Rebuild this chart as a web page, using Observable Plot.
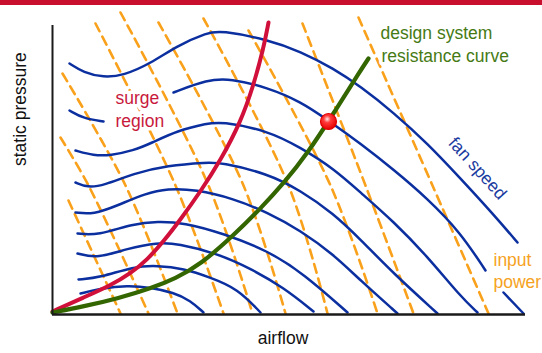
<!DOCTYPE html>
<html><head><meta charset="utf-8">
<script src="https://cdn.jsdelivr.net/npm/d3@7"></script>
<script src="https://cdn.jsdelivr.net/npm/@observablehq/plot@0.6"></script>
<style>
html,body{margin:0;padding:0;background:#fff;}
#bar{height:5px;background:#c8102e;width:542px;}
#chart svg{display:block;}
</style></head><body>
<div id="bar"></div>
<div id="chart"></div>
<script>
// Fan speed curves: [airflow, static pressure] (null = hidden by a label)
const fanSpeed1 = [[17,251],[31,242],[51,237],[71,239],[98,251],[125,269],[155,282],[168,284],[215,275],[248,263],[281,246],[308,228],[341,202],[375,171],[408,136],[441,100],[465,72]];
const fanSpeed2 = [[17,204],[31,196],[51,193],[null,null],[121,222],[155,235],[178,236],[215,227],[248,213],[276,194],[308,171],[341,145],[375,116],[408,82],[433,44],[null,null],[451,22],[471,1]];
const fanSpeed3 = [[23,164],[41,159],[58,159],[81,164],[98,171],[125,184],[155,191],[168,193],[215,184],[248,167],[281,146],[308,122],[341,93],[375,58],[408,18],[425,2]];
const fanSpeed4 = [[23,132],[35,127],[51,129],[81,141],[115,149],[155,152],[168,152],[215,141],[248,124],[281,101],[308,75],[341,41],[385,1]];
const fanSpeed5 = [[23,102],[41,100],[65,109],[93,121],[115,126],[143,125],[181,116],[215,102],[248,84],[281,60],[308,34],[345,1]];
const fanSpeed6 = [[25,81],[45,79],[81,91],[105,93],[131,92],[171,81],[215,64],[251,41],[295,2]];
const fanSpeed7 = [[25,61],[45,56],[75,66],[105,72],[125,71],[165,61],[198,46],[231,27],[261,3]];
const fanSpeed8 = [[26,35],[48,37],[81,48],[105,49],[131,46],[158,37],[185,26],[208,2]];
const fanSpeed9 = [[28,21],[48,26],[75,29],[98,27],[121,22],[138,14],[151,2]];

// Input power lines (dashed)
const power1 = [[16,114],[68,1]];
const power2 = [[8,177],[36,129],[96,1]];
const power3 = [[10,241],[73,129],[125,1]];
const power4 = [[43,291],[123,129],[171,1]];
const power5 = [[68,302],[156,129],[200,1]];
const power6 = [[106,292],[191,129],[233,1]];
const power7 = [[151,296],[236,129],[275,1]];
const power8 = [[196,284],[278,129],[325,1]];
const power9 = [[250,291],[313,129],[361,1]];
const power10 = [[306,297],[380,129],[436,1]];

// Surge line and design system resistance curve
const surgeLine = [[0,3],[31,17],[58,29],[78,41],[95,55],[111,73],[128,95],[148,123],[168,154],[188,192],[201,229],[211,266],[216,292]];
const systemCurve = [[0,2],[31,8],[65,16],[98,26],[123,36],[148,50],[181,79],[208,106],[231,131],[255,161],[281,201],[308,244],[316,256]];
const designPoint = [[276,193]];

// Labels
const labelText = ["surge","region","design system","resistance curve","input","power"];
const labelX = [63,63,328,329,441,441];
const labelY = [216.5,193.5,281.5,258.5,54.5,32.5];
const labelColor = ["#c8193c","#c8193c","#467a14","#467a14","#f5a21e","#f5a21e"];
const fanLabel = {text:"fan speed", x:425, y:146};

const toRows = (pts, id) => pts.map(([x,y]) => ({x: x ?? NaN, y: y ?? NaN, id}));
const fanRows = [fanSpeed1,fanSpeed2,fanSpeed3,fanSpeed4,fanSpeed5,fanSpeed6,fanSpeed7,fanSpeed8,fanSpeed9].flatMap((c,i)=>toRows(c,i));
const powerRows = [power1,power2,power3,power4,power5,power6,power7,power8,power9,power10].flatMap((c,i)=>toRows(c,i));
const labels = labelText.map((t,i)=>({text:t, x:labelX[i], y:labelY[i], color:labelColor[i]}));

const svg = Plot.plot({
  width: 542, height: 348,
  marginLeft: 52, marginRight: 17, marginTop: 20, marginBottom: 39,
  x: {domain:[0,473], axis:null},
  y: {domain:[0,289], axis:null},
  style: {fontFamily: "'Liberation Sans', Arial, sans-serif", background: "white"},
  marks: [
    Plot.line(powerRows, {x:"x", y:"y", z:"id", stroke:"#f9a11b", strokeWidth:2.6, strokeDasharray:"9,6", curve:"catmull-rom"}),
    Plot.line(fanRows, {x:"x", y:"y", z:"id", stroke:"#0b2f9f", strokeWidth:2.5, curve:"basis"}),
    Plot.line(toRows(surgeLine,0), {x:"x", y:"y", stroke:"#d0103a", strokeWidth:4, curve:"basis"}),
    Plot.line(toRows(systemCurve,0), {x:"x", y:"y", stroke:"#336600", strokeWidth:4.2, curve:"basis"}),
    Plot.ruleX([0], {stroke:"#1a1a1a", strokeWidth:2}),
    Plot.ruleY([0], {stroke:"#1a1a1a", strokeWidth:2.5}),
    Plot.dot(toRows(designPoint,0), {x:"x", y:"y", r:8, fill:"red", stroke:"#e00000", strokeWidth:1.2}),
    Plot.text(labels, {x:"x", y:"y", text:"text", fill:"color", textAnchor:"start", fontSize:17.5, stroke:"white", strokeWidth:7, paintOrder:"stroke"}),
    Plot.text([fanLabel], {x:"x", y:"y", text:"text", fill:"#1a3aa0", fontSize:17.5, rotate:48, stroke:"white", strokeWidth:4, paintOrder:"stroke"}),
    Plot.text(["static pressure"], {frameAnchor:"left", text:d=>d, rotate:-90, dx:-32, dy:-4, fontSize:17.5, fill:"#111"}),
    Plot.text(["airflow"], {frameAnchor:"bottom", text:d=>d, dx:-6, dy:29, fontSize:17.5, fill:"#111"})
  ]
});
const defs = d3.select(svg).insert("defs", ":first-child");
const g = defs.append("radialGradient").attr("id","dotGrad").attr("cx","42%").attr("cy","35%").attr("r","65%");
g.append("stop").attr("offset","0%").attr("stop-color","#ffe6e6");
g.append("stop").attr("offset","35%").attr("stop-color","#ff3a3a");
g.append("stop").attr("offset","100%").attr("stop-color","#e60000");
d3.select(svg).selectAll('g[aria-label="dot"] circle').attr("fill","url(#dotGrad)");
document.getElementById("chart").appendChild(svg);
</script>
</body></html>
